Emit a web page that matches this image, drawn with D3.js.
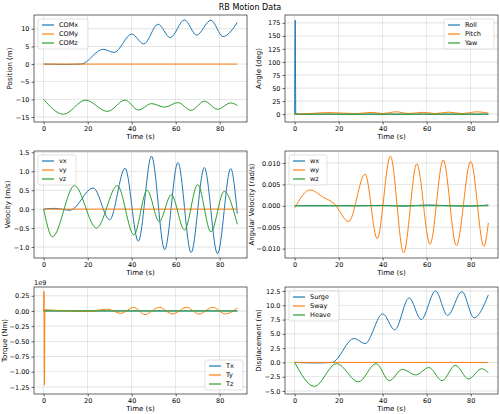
<!DOCTYPE html><html><head><meta charset="utf-8"><script src="https://cdn.jsdelivr.net/npm/d3@7"></script>
<style>body{margin:0;background:#fff}text{font-family:"DejaVu Sans",sans-serif}</style></head><body><svg id="c" width="500" height="414"></svg><script>
const C=["#1f77b4","#ff7f0e","#2ca02c"];
const comX=[[0,0],[10,-0.1],[17,0],[27,4.2],[32,3.3],[40,8.5],[45.5,5.7],[52,11.3],[57.5,7.5],[64,12.5],[69.5,8.2],[76,12.4],[81.5,7.8],[88,11.8]];
const comY=[[0,0],[88,0]];
const comZ=[[0,-10],[9,-14.2],[19,-10.2],[29,-13.4],[37,-10.2],[43,-13],[49,-11.2],[55,-12.2],[61,-10.9],[67,-13.1],[73,-10.5],[79,-12.8],[85,-11],[88,-11.7]];
const roll=[[0,0],[0.25,180],[0.5,0],[88,0]];
const pitch=[[0,0],[8,1.5],[15,3],[22,2],[28,1],[35,3.5],[40,1.2],[46,4.5],[52,1.2],[58,3.5],[64,1.2],[70,4],[76,1.2],[83,4.5],[88,2]];
const yaw=[[0,0],[88,0]];
const vx=[[0,0],[5,0.02],[12,-0.03],[22.5,0.56],[30,-0.28],[37,1.08],[43,-0.85],[49,1.4],[55,-1.07],[61,1.23],[67,-1.15],[73,1.1],[79,-1.18],[85,1.07],[88,-0.12]];
const vy=[[0,0],[88,0]];
const vz=[[0,0],[4,-0.73],[14,0.62],[24,-0.5],[33.5,0.62],[41,-0.68],[47,0.5],[52.5,-0.33],[58,0.38],[64,-0.55],[70,0.65],[76,-0.6],[82,0.47],[88,-0.4]];
const wx=[[0,0],[30,0],[40,0.0001],[50,-0.0001],[60,0.0002],[70,0],[80,-0.0001],[88,0.0002]];
const wy=[[0,-0.0005],[7,0.0037],[13,0.002],[18,0.0005],[24.5,-0.0037],[32,0.0074],[37.5,-0.0077],[43.5,0.0116],[49.5,-0.011],[55.5,0.0098],[61.5,-0.009],[67.5,0.0107],[73.5,-0.0093],[80,0.0104],[86,-0.0095],[88,-0.004]];
const wz=[[0,0],[88,0]];
const tx=[[0,0],[88,0]];
const ty=[[0,0],[0.15,0.32],[0.35,-1.22],[0.55,0.02],[5,0.01],[20,-0.01],[29,0.03],[35,-0.04],[41,0.06],[46,-0.06],[52.5,0.06],[58.5,-0.05],[65,0.06],[70.5,-0.05],[77,0.06],[82.5,-0.05],[88,0.05]];
const tz=[[0,0],[88,0]];
const surge=comX;
const sway=[[0,0],[88,0]];
const heave=[[0,0],[9,-4.2],[19,-0.2],[29,-3.4],[37,-0.2],[43,-3.2],[49,-1.2],[55,-2.2],[61,-0.9],[67,-3.2],[73,-0.5],[79,-2.9],[85,-1.1],[88,-1.8]];
const xTicks=[0,20,40,60,80];
const panels=[
 {x:34,y:15,yl:"Position (m)",off:-22,dom:[-16.4,13.9],ticks:[-15,-10,-5,0,5,10],fmt:d3.format("d"),s:[comX,comY,comZ],n:["COMx","COMy","COMz"],leg:"tl"},
 {x:285,y:15,yl:"Angle (deg)",off:-24,dom:[-15,190],ticks:[0,25,50,75,100,125,150,175],fmt:d3.format("d"),s:[roll,pitch,yaw],n:["Roll","Pitch","Yaw"],leg:"tr"},
 {x:34,y:151,yl:"Velocity (m/s)",off:-24,dom:[-1.29,1.535],ticks:[-1,-0.5,0,0.5,1,1.5],fmt:d3.format(".1f"),s:[vx,vy,vz],n:["vx","vy","vz"],leg:"tl"},
 {x:285,y:151,yl:"Angular Velocity (rad/s)",off:-31,dom:[-0.0122,0.0128],ticks:[-0.01,-0.005,0,0.005,0.01],fmt:d3.format(".3f"),s:[wx,wy,wz],n:["wx","wy","wz"],leg:"tl"},
 {x:34,y:287,yl:"Torque (Nm)",off:-27,dom:[-1.366,0.394],ticks:[-1.25,-1,-0.75,-0.5,-0.25,0,0.25],fmt:d3.format(".2f"),s:[tx,ty,tz],n:["Tx","Ty","Tz"],leg:"br",exp:"1e9"},
 {x:285,y:287,yl:"Displacement (m)",off:-24,dom:[-5.53,13.2],ticks:[-5,-2.5,0,2.5,5,7.5,10,12.5],fmt:d3.format(".1f"),s:[surge,sway,heave],n:["Surge","Sway","Heave"],leg:"tl"}];
const svg=d3.select("#c");
svg.append("text").attr("x",250).attr("y",10).attr("text-anchor","middle").attr("font-size",8).text("RB Motion Data");
const W=213,H=107;
const mf=s=>s.replace("-","\u2212");
panels.forEach(p=>{
 const g=svg.append("g").attr("transform",`translate(${p.x},${p.y})`);
 const x=d3.scaleLinear().domain([-4.4,92.4]).range([0,W]);
 const y=d3.scaleLinear().domain(p.dom).range([H,0]);
 xTicks.forEach(t=>g.append("line").attr("x1",x(t)).attr("x2",x(t)).attr("y1",0).attr("y2",H).attr("stroke","#b0b0b0").attr("stroke-width",0.5).attr("opacity",0.7));
 p.ticks.forEach(t=>g.append("line").attr("y1",y(t)).attr("y2",y(t)).attr("x1",0).attr("x2",W).attr("stroke","#b0b0b0").attr("stroke-width",0.5).attr("opacity",0.7));
 const ln=d3.line().x(d=>x(d[0])).y(d=>y(d[1])).curve(d3.curveMonotoneX);
 p.s.forEach((s,i)=>g.append("path").attr("d",ln(s)).attr("fill","none").attr("stroke",C[i]).attr("stroke-width",1));
 const xa=g.append("g").attr("transform",`translate(0,${H})`).call(d3.axisBottom(x).tickValues(xTicks).tickSize(2.5).tickPadding(2));
 const ya=g.append("g").call(d3.axisLeft(y).tickValues(p.ticks).tickFormat(d=>mf(p.fmt(d))).tickSize(2.5).tickPadding(2));
 [xa,ya].forEach(a=>{a.select(".domain").remove();a.selectAll("text").attr("font-size",6.5).attr("fill","#000");a.selectAll("line").attr("stroke","#000").attr("stroke-width",0.6);});
 g.append("rect").attr("width",W).attr("height",H).attr("fill","none").attr("stroke","#000").attr("stroke-width",0.6);
 g.append("text").attr("x",W/2).attr("y",H+17).attr("text-anchor","middle").attr("font-size",7).text("Time (s)");
 g.append("text").attr("transform",`translate(${p.off},${H/2}) rotate(-90)`).attr("text-anchor","middle").attr("font-size",7).text(p.yl);
 if(p.exp)g.append("text").attr("x",0).attr("y",-2).attr("font-size",6.5).text(p.exp);
 const lw=p.n[0].length>3?50:38,lh=30;
 let lx=4,ly=4;
 if(p.leg==="tr"){lx=W-lw-4;} if(p.leg==="br"){lx=W-lw-4;ly=H-lh-4;}
 const lg=g.append("g").attr("transform",`translate(${lx},${ly})`);
 lg.append("rect").attr("width",lw).attr("height",lh).attr("rx",2).attr("fill","#fff").attr("fill-opacity",0.8).attr("stroke","#ccc").attr("stroke-width",0.6);
 p.n.forEach((n,i)=>{const yy=6+i*9;lg.append("line").attr("x1",4).attr("x2",16).attr("y1",yy).attr("y2",yy).attr("stroke",C[i]).attr("stroke-width",1.2);
  lg.append("text").attr("x",21).attr("y",yy+2.3).attr("font-size",6.5).text(n);});
});
</script></body></html>
